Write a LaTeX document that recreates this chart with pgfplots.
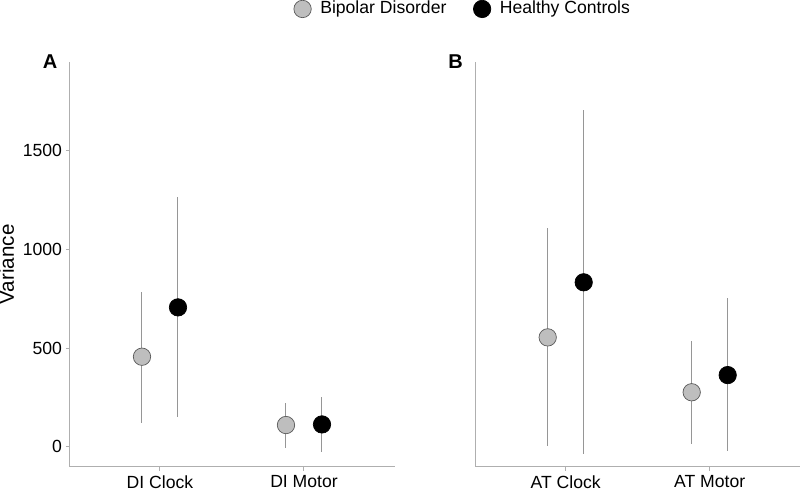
\documentclass[border=0pt]{standalone}
\usepackage{fontspec}
\setmainfont{Liberation Sans}
\usepackage{pgfplots}
\pgfplotsset{compat=1.18}
\definecolor{axisgray}{RGB}{175,175,175}
\definecolor{bdgray}{RGB}{190,190,190}
\definecolor{errgray}{RGB}{150,150,150}
\begin{document}
\begin{tikzpicture}
\useasboundingbox (0pt,0pt) rectangle (400pt,245.5pt);
\pgfplotsset{
 myaxis/.style={
  scale only axis, width=162.5pt, height=202.35pt,
  axis lines=left, axis line style={-, axisgray, line width=0.5pt},
  xmin=0.375, xmax=2.632, ymin=-101, ymax=1949,
  xtick={1,2}, tick align=outside, major tick length=2pt,
  tick style={axisgray, line width=0.5pt},
  tick label style={font=\fontsize{8.8}{10}\selectfont, black},
  /pgf/number format/assume math mode=true,
  /pgf/number format/1000 sep={},
  scaled ticks=false,
  clip=false,
  xticklabel style={yshift=1.2pt},
  yticklabel style={xshift=1.5pt},
 },
 bd/.style={only marks, mark=*, mark size=4.35pt, mark options={fill=bdgray, draw=black!65, line width=0.35pt},
   error bars/.cd, y dir=both, y explicit, error mark=none, error bar style={errgray, line width=0.5pt}},
 hc/.style={only marks, mark=*, mark size=4.35pt, mark options={fill=black, draw=black, line width=0.35pt},
   error bars/.cd, y dir=both, y explicit, error mark=none, error bar style={errgray, line width=0.5pt}},
}
\begin{axis}[myaxis, at={(35pt,12.15pt)}, anchor=south west,
  ytick={0,500,1000,1500},
  xticklabels={DI Clock, DI Motor},
  ylabel={Variance},
  ylabel style={at={(axis description cs:-0.195,0.5)}, anchor=center, font=\fontsize{10.3}{12}\selectfont},
  legend style={at={(axis description cs:1.212,1.131)}, anchor=center, draw=none, fill=none,
    legend columns=2, font=\fontsize{8.8}{10}\selectfont,
    /tikz/every odd column/.append style={column sep=2.5pt},
    /tikz/every even column/.append style={column sep=11.5pt}},
  legend cell align=left,
  ]
\addplot[bd] table[x=x, y=y, y error plus=ep, y error minus=em] {
x y ep em
0.875 456 329 334
1.875 110 110 115
};
\addlegendentry{Bipolar Disorder}
\addplot[hc] table[x=x, y=y, y error plus=ep, y error minus=em] {
x y ep em
1.125 706 557 554
2.125 113 137 138
};
\addlegendentry{Healthy Controls}
\node[font=\bfseries\fontsize{10}{12}\selectfont] at (axis description cs:-0.0615,1.0) {A};
\end{axis}
\begin{axis}[myaxis, at={(237.85pt,12.15pt)}, anchor=south west,
  ytick=\empty,
  xticklabels={AT Clock, AT Motor},
  ]
\addplot[bd] table[x=x, y=y, y error plus=ep, y error minus=em] {
x y ep em
0.875 554 552 550
1.875 276 261 264
};
\addplot[hc] table[x=x, y=y, y error plus=ep, y error minus=em] {
x y ep em
1.125 833 873 870
2.125 363 389 383
};
\node[font=\bfseries\fontsize{10}{12}\selectfont] at (axis description cs:-0.062,1.0) {B};
\end{axis}
\end{tikzpicture}
\end{document}
